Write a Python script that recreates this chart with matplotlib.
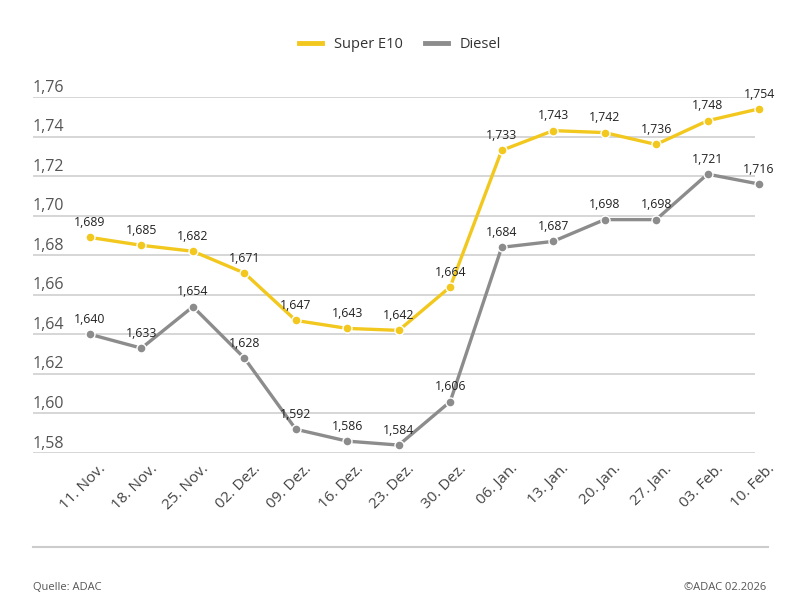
import matplotlib
matplotlib.use("Agg")
import matplotlib.pyplot as plt
from matplotlib.lines import Line2D

plt.rcParams['font.family'] = ['Open Sans', 'DejaVu Sans']

dates = ["11. Nov.", "18. Nov.", "25. Nov.", "02. Dez.", "09. Dez.", "16. Dez.", "23. Dez.",
         "30. Dez.", "06. Jan.", "13. Jan.", "20. Jan.", "27. Jan.", "03. Feb.", "10. Feb."]
e10 = [1.689, 1.685, 1.682, 1.671, 1.647, 1.643, 1.642, 1.664, 1.733, 1.743, 1.742, 1.736, 1.748, 1.754]
diesel = [1.640, 1.633, 1.654, 1.628, 1.592, 1.586, 1.584, 1.606, 1.684, 1.687, 1.698, 1.698, 1.721, 1.716]
yticks = [1.58, 1.60, 1.62, 1.64, 1.66, 1.68, 1.70, 1.72, 1.74, 1.76]

yellow = "#f2c81e"
grey = "#8c8c8c"
txt = "#222222"

fig = plt.figure(figsize=(8, 6), dpi=100)
# axes spans gridline extent: x 33..755 px, y 97..453 px
ax = fig.add_axes([33/800, 1 - 453/600, (755-33)/800, (453-97)/600])
n = len(dates)
step = 669 / (n - 1)
ax.set_xlim(-(90-33)/step, (n-1) - (759-755)/step)
ax.set_ylim(1.58, 1.76)
for s in ax.spines.values():
    s.set_visible(False)
ax.set_xticks([])
ax.set_yticks([])

for v in yticks:
    ax.axhline(v, color="#d0d0d0", lw=1.2, zorder=0)
    ax.annotate(f"{v:.2f}".replace(".", ","), (0, v), xycoords=("axes fraction", "data"),
                xytext=(0, 1), textcoords="offset points", ha="left", va="bottom",
                fontsize=11.5, color="#555555", annotation_clip=False)

x = list(range(n))
for ser, col in [(diesel, grey), (e10, yellow)]:
    ax.plot(x, ser, color=col, lw=2.4, marker="o", ms=6.5, mec="white", mew=1.0,
            clip_on=False, zorder=3)
    for xi, v in zip(x, ser):
        ax.annotate(f"{v:.3f}".replace(".", ","), (xi, v), xytext=(0, 6), textcoords="offset points",
                    ha="center", va="bottom", fontsize=8.8, color=txt, zorder=4,
                    annotation_clip=False)

for xi, d in zip(x, dates):
    ax.annotate(d, (xi, 1.58), xytext=(6, -6), textcoords="offset points",
                ha="right", va="top", rotation=45, rotation_mode="anchor",
                fontsize=11, color="#444444", annotation_clip=False)

handles = [Line2D([], [], color=yellow, lw=3.5), Line2D([], [], color=grey, lw=3.5)]
fig.legend(handles, ["Super E10", "Diesel"], loc="center", bbox_to_anchor=(0.5, 1 - 45/600),
           ncol=2, frameon=False, fontsize=10.5, handlelength=1.6, columnspacing=1.5,
           labelcolor="#333333")

fig.add_artist(Line2D([33/800, 768/800], [1 - 547/600, 1 - 547/600], color="#cccccc", lw=1.5))
fig.text(33/800, 1 - 587/600, "Quelle: ADAC", fontsize=8, color="#555555", ha="left", va="center")
fig.text(766/800, 1 - 587/600, "©ADAC 02.2026", fontsize=8, color="#555555", ha="right", va="center")

fig.savefig("out.png", dpi=100)
